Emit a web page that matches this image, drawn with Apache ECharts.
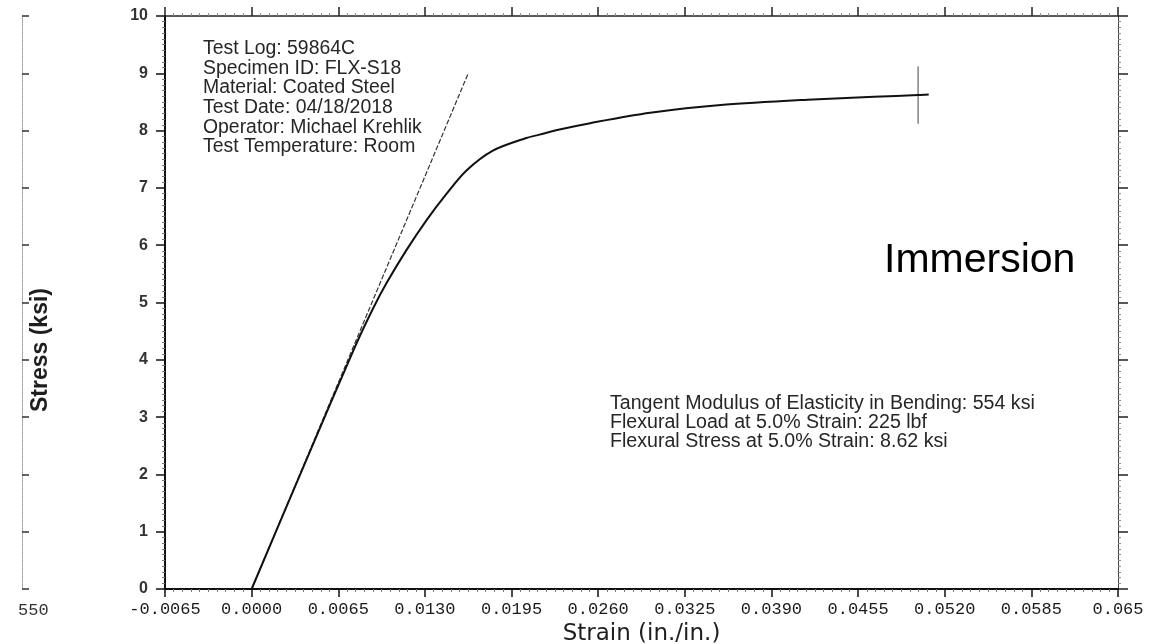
<!DOCTYPE html>
<html>
<head>
<meta charset="utf-8">
<script src="https://cdn.jsdelivr.net/npm/echarts@6.0.0/dist/echarts.min.js"></script>
<style>
  html, body { margin: 0; padding: 0; background: #fff; }
  #chart { width: 1159px; height: 644px; }
</style>
</head>
<body>
<div id="chart"></div>
<script>
const strainValues = [0, 0.0041, 0.0078, 0.0091, 0.0101, 0.0116, 0.0131, 0.0146, 0.0161, 0.0181,
  0.0206, 0.0216, 0.0231, 0.0254, 0.0299, 0.0354, 0.0417, 0.0467, 0.0500, 0.0508];
const stressValues = [0, 2.25, 4.25, 4.89, 5.33, 5.91, 6.43, 6.89, 7.3, 7.65,
  7.87, 7.93, 8.02, 8.13, 8.31, 8.45, 8.54, 8.59, 8.62, 8.63];

// tangent modulus line (554 ksi) and the 5.0% strain marker
const tangentStrain = [0, 0.01625];
const tangentStress = [0, 9.0];
const markerStrain = [0.05, 0.05];
const markerStress = [8.12, 9.12];

const xTickLabels = ["-0.0065", "0.0000", "0.0065", "0.0130", "0.0195", "0.0260",
  "0.0325", "0.0390", "0.0455", "0.0520", "0.0585", "0.065"];
const xMin = -0.0065;
const xMax = 0.065;
const xStep = 0.0065;
const yMin = 0;
const yMax = 10;

const infoLines = [
  "Test Log: 59864C",
  "Specimen ID: FLX-S18",
  "Material: Coated Steel",
  "Test Date: 04/18/2018",
  "Operator: Michael Krehlik",
  "Test Temperature: Room",
];
const resultLines = [
  "Tangent Modulus of Elasticity in Bending: 554 ksi",
  "Flexural Load at 5.0% Strain: 225 lbf",
  "Flexural Stress at 5.0% Strain: 8.62 ksi",
];
const sampleLabel = "Immersion";
const yTitle = "Stress (ksi)";
const strayLabel = "550";

function zip(xs, ys) {
  return xs.map((x, i) => [x, ys[i]]);
}

const chart = echarts.init(document.getElementById("chart"));

const sansFont = "Liberation Sans, Arial, sans-serif";
const ink = "#1e1e1e";

chart.setOption({
  animation: false,
  backgroundColor: "#fff",
  grid: {
    left: 165,
    right: 41,
    top: 16,
    bottom: 55,
    containLabel: false,
    outerBoundsMode: "none",
  },
  xAxis: [
    {
      type: "value",
      position: "bottom",
      min: xMin,
      max: xMax,
      interval: xStep,
      name: "Strain (in./in.)",
      nameLocation: "middle",
      nameGap: 24,
      nameTextStyle: { fontFamily: "DejaVu Sans", fontSize: 23, color: ink },
      axisLine: { show: true, onZero: false, lineStyle: { color: "#111", width: 2 } },
      axisTick: { show: true, length: 8, lineStyle: { color: "#111", width: 1.5 } },
      minorTick: { show: true, splitNumber: 10, length: 3, lineStyle: { color: "#777" } },
      splitLine: { show: false },
      axisLabel: {
        margin: 12,
        fontFamily: "Liberation Mono, DejaVu Sans Mono, monospace",
        fontSize: 17,
        color: "#1a1a1a",
        formatter: (v) => xTickLabels[Math.round((v - xMin) / xStep)] ?? "",
      },
    },
    {
      type: "value",
      position: "top",
      min: xMin,
      max: xMax,
      interval: xStep,
      axisLine: { show: true, onZero: false, lineStyle: { color: "#222", width: 1.5 } },
      axisTick: { show: true, length: 9, lineStyle: { color: "#222", width: 1.5 } },
      minorTick: { show: true, splitNumber: 10, length: 3, lineStyle: { color: "#888" } },
      splitLine: { show: false },
      axisLabel: { show: false },
    },
  ],
  yAxis: [
    {
      type: "value",
      position: "left",
      min: yMin,
      max: yMax,
      interval: 1,
      axisLine: { show: true, onZero: false, lineStyle: { color: "#111", width: 2 } },
      axisTick: { show: true, length: 9, lineStyle: { color: "#111", width: 1.5 } },
      minorTick: { show: true, splitNumber: 10, length: 3, lineStyle: { color: "#777" } },
      splitLine: { show: false },
      axisLabel: {
        margin: 17,
        fontFamily: sansFont,
        fontSize: 16,
        fontWeight: "bold",
        color: "#333",
      },
    },
    {
      type: "value",
      position: "right",
      min: yMin,
      max: yMax,
      interval: 1,
      axisLine: { show: true, onZero: false, lineStyle: { color: "#444", width: 1 } },
      axisTick: { show: true, length: 10, lineStyle: { color: "#222", width: 1.5 } },
      minorTick: { show: true, splitNumber: 10, length: 3, lineStyle: { color: "#888" } },
      splitLine: { show: false },
      axisLabel: { show: false },
    },
    {
      // edge of the neighbouring chart on the scan
      type: "value",
      position: "left",
      offset: 143,
      min: yMin,
      max: yMax,
      interval: 1,
      axisLine: { show: true, onZero: false, lineStyle: { color: "#999", width: 1, type: "dotted" } },
      axisTick: { show: true, inside: true, length: 7, lineStyle: { color: "#333", width: 1.5 } },
      splitLine: { show: false },
      axisLabel: { show: false },
    },
  ],
  series: [
    {
      name: "Stress",
      type: "line",
      xAxisIndex: 0,
      yAxisIndex: 0,
      data: zip(strainValues, stressValues),
      showSymbol: false,
      smooth: 0.3,
      lineStyle: { color: "#111", width: 2 },
      z: 3,
    },
    {
      name: "Tangent",
      type: "line",
      xAxisIndex: 0,
      yAxisIndex: 0,
      data: zip(tangentStrain, tangentStress),
      showSymbol: false,
      lineStyle: { color: "#333", width: 1.2, type: [5, 2] },
      z: 2,
    },
    {
      name: "5% marker",
      type: "line",
      xAxisIndex: 0,
      yAxisIndex: 0,
      data: zip(markerStrain, markerStress),
      showSymbol: false,
      lineStyle: { color: "#444", width: 1 },
      z: 2,
    },
  ],
  graphic: [
    {
      type: "text",
      x: 41,
      y: 350,
      rotation: Math.PI / 2,
      style: {
        text: yTitle,
        font: "bold 23px " + sansFont,
        align: "center",
        verticalAlign: "middle",
        fill: ink,
      },
    },
    {
      type: "text",
      left: 203,
      top: 39,
      style: {
        text: infoLines.join("\n"),
        font: "19.4px " + sansFont,
        lineHeight: 19.6,
        fill: "#262626",
      },
    },
    {
      type: "text",
      left: 610,
      top: 394,
      style: {
        text: resultLines.join("\n"),
        font: "19.6px " + sansFont,
        lineHeight: 19,
        fill: "#262626",
      },
    },
    {
      type: "text",
      left: 884,
      top: 240,
      style: {
        text: sampleLabel,
        font: "41px " + sansFont,
        fill: "#000",
      },
    },
    {
      type: "text",
      left: 18,
      top: 602,
      style: {
        text: strayLabel,
        font: "17px Liberation Mono, DejaVu Sans Mono, monospace",
        fill: "#333",
      },
    },
  ],
});
</script>
</body>
</html>
